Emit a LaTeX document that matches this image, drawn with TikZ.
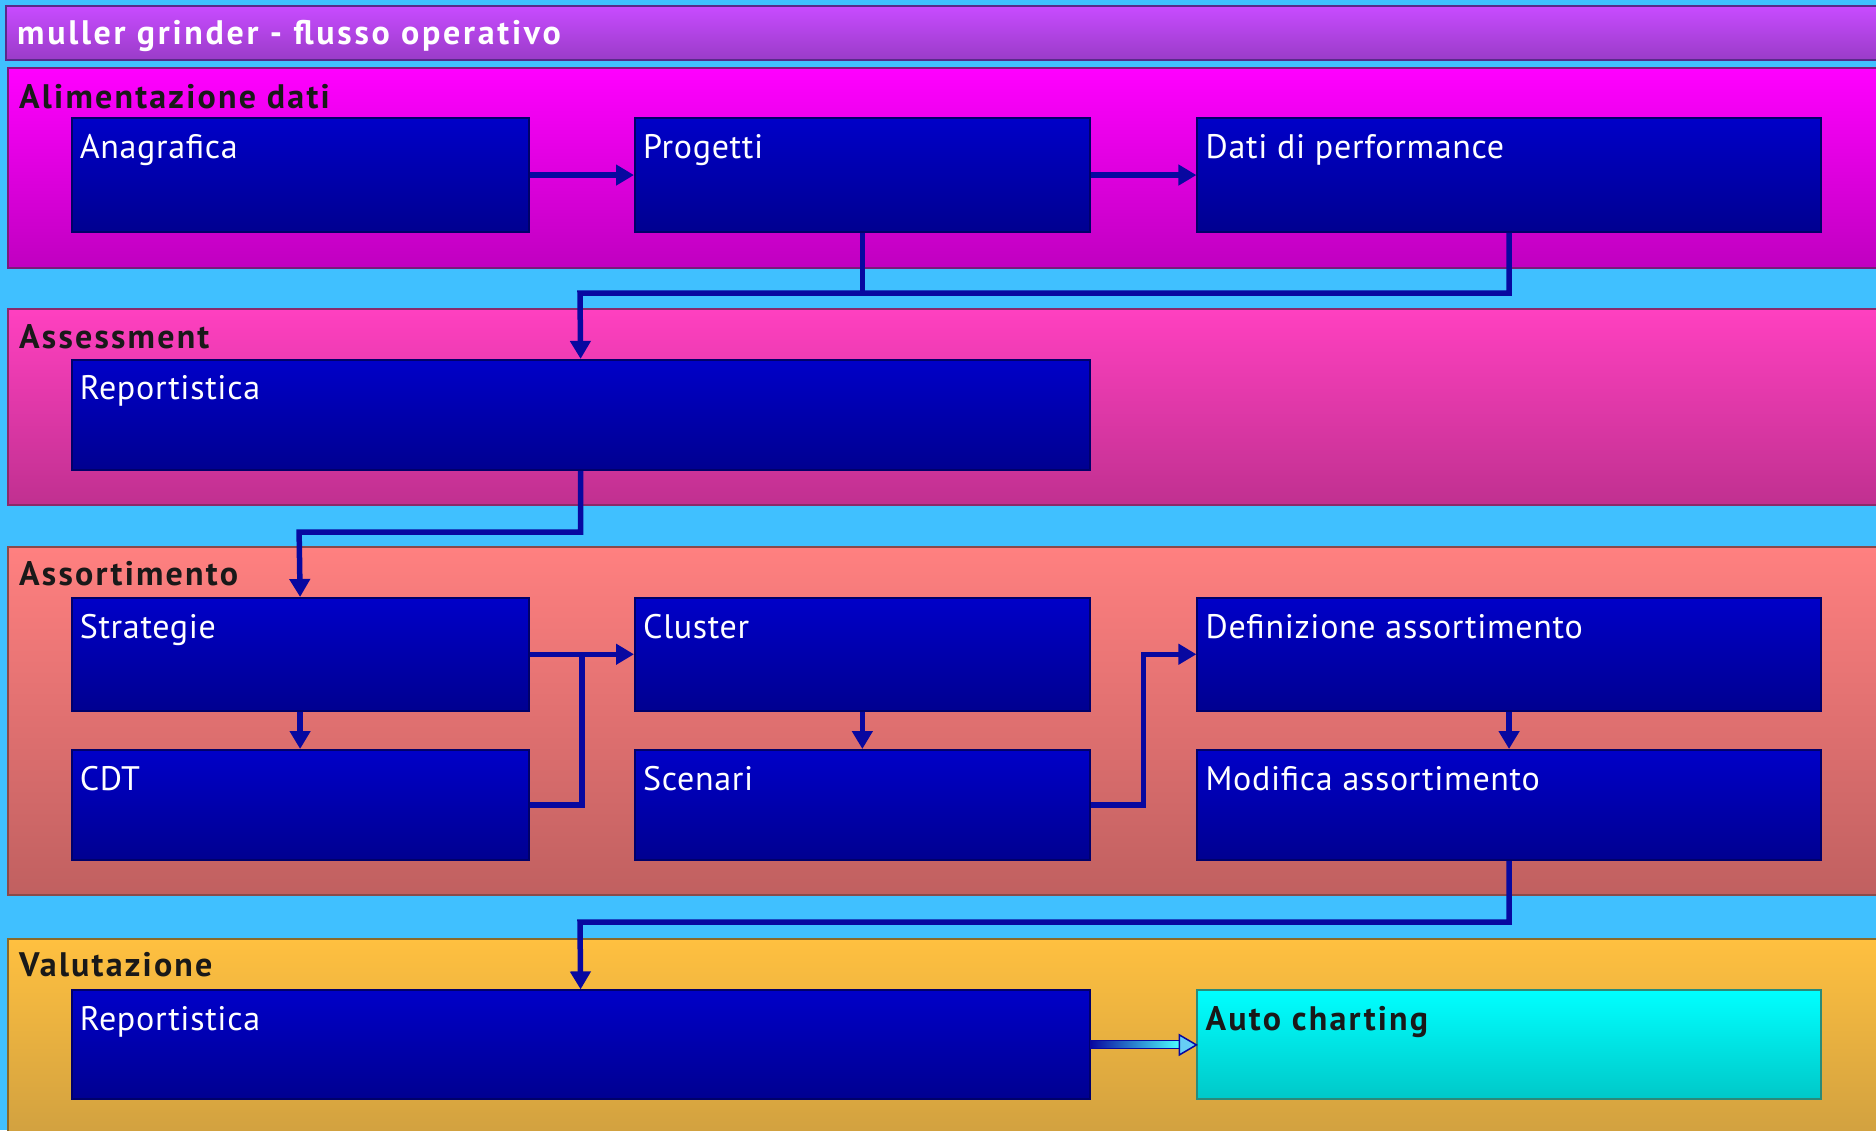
\documentclass[tikz,border=0pt]{standalone}
\usepackage{fontspec}
\setmainfont{PT Sans}
\newfontfamily\boxfont[LetterSpace=2]{PT Sans}
\newfontfamily\bandfont[LetterSpace=6.5]{PT Sans}
\newfontfamily\titfont[LetterSpace=8]{PT Sans}
\usetikzlibrary{arrows.meta,calc}
\definecolor{bg}{HTML}{40C0FF}
\definecolor{titt}{HTML}{C84BFF}
\definecolor{titb}{HTML}{9A3CC8}
\definecolor{titd}{HTML}{5A2A8A}
\definecolor{b1t}{HTML}{FF00FF}
\definecolor{b1b}{HTML}{C000C0}
\definecolor{b1d}{HTML}{7A1A7A}
\definecolor{b2t}{HTML}{FF40C0}
\definecolor{b2b}{HTML}{C03090}
\definecolor{b2d}{HTML}{8A2A6A}
\definecolor{b3t}{HTML}{FF8080}
\definecolor{b3b}{HTML}{C06060}
\definecolor{b3d}{HTML}{8A4A4A}
\definecolor{b4t}{HTML}{FFC040}
\definecolor{b4b}{HTML}{D0A040}
\definecolor{b4d}{HTML}{8A6A2A}
\definecolor{boxt}{HTML}{0000C8}
\definecolor{boxbot}{HTML}{000090}
\definecolor{boxd}{HTML}{00006A}
\definecolor{conn}{HTML}{0808A0}
\definecolor{act}{HTML}{00FFFF}
\definecolor{acb}{HTML}{00C8C8}
\definecolor{acd}{HTML}{2A8A7A}
\begin{document}
\begin{tikzpicture}[x=1pt,y=-1pt,
  band/.style={line width=2pt},
  box/.style={draw=boxd, line width=2pt, top color=boxt, bottom color=boxbot, anchor=north west, inner sep=0pt},
  lbl/.style={anchor=base west, text=white, font=\boxfont\fontsize{34}{36}\selectfont, inner sep=0pt},
  blbl/.style={anchor=base west, text=black!90, font=\bandfont\bfseries\fontsize{34}{36}\selectfont, inner sep=0pt},
  flow/.style={draw=conn, line width=5.5pt, -{Triangle[length=18pt,width=20pt]}},
  flowline/.style={draw=conn, line width=5.5pt}]
\clip (0,0) rectangle (1876,1130);
\fill[bg] (0,0) rectangle (1876,1130);
% bands
\shade[band, draw=titd, top color=titt, bottom color=titb] (6,6) rectangle (1890,60);
\shade[band, draw=b1d, top color=b1t, bottom color=b1b] (8,68) rectangle (1890,268);
\shade[band, draw=b2d, top color=b2t, bottom color=b2b] (8,309) rectangle (1890,505);
\shade[band, draw=b3d, top color=b3t, bottom color=b3b] (8,547) rectangle (1890,895);
\shade[band, draw=b4d, top color=b4t, bottom color=b4b] (8,939) rectangle (1890,1140);
% band labels
\node[blbl, text=white, font=\titfont\bfseries\fontsize{34}{36}\selectfont] (title) at (17,44) {muller grinder - flusso operativo};
\node[blbl] (l1) at (19,108) {Alimentazione dati};
\node[blbl] (l2) at (19,348) {Assessment};
\node[blbl] (l3) at (19,585) {Assortimento};
\node[blbl] (l4) at (19,976) {Valutazione};
% boxes
\node[box, minimum width=457pt, minimum height=113.7pt] (ana) at (70.6,117.2) {};
\node[box, minimum width=454.7pt, minimum height=113.7pt] (prog) at (634,117.2) {};
\node[box, minimum width=623.3pt, minimum height=113.7pt] (dati) at (1196.4,117.2) {};
\node[box, minimum width=1018pt, minimum height=110pt] (rep1) at (70.6,358.9) {};
\node[box, minimum width=457pt, minimum height=112.5pt] (strat) at (70.6,597) {};
\node[box, minimum width=454.7pt, minimum height=112.5pt] (clus) at (634,597) {};
\node[box, minimum width=623.3pt, minimum height=112.5pt] (def) at (1196.4,597) {};
\node[box, minimum width=457pt, minimum height=110pt] (cdt) at (70.6,749) {};
\node[box, minimum width=454.7pt, minimum height=110pt] (scen) at (634,749) {};
\node[box, minimum width=623.3pt, minimum height=110pt] (mod) at (1196.4,749) {};
\node[box, minimum width=1018pt, minimum height=109pt] (rep2) at (70.6,989.4) {};
\node[box, draw=acd, top color=act, bottom color=acb, minimum width=623.3pt, minimum height=109pt] (ac) at (1196.4,989.4) {};
% box labels
\node[lbl] (anat) at ($(ana.north west)+(9,41)$) {Anagrafica};
\node[lbl] (progt) at ($(prog.north west)+(9,41)$) {Progetti};
\node[lbl] (datit) at ($(dati.north west)+(9,41)$) {Dati di performance};
\node[lbl] (rep1t) at ($(rep1.north west)+(9,41)$) {Reportistica};
\node[lbl] (stratt) at ($(strat.north west)+(9,41)$) {Strategie};
\node[lbl] (clust) at ($(clus.north west)+(9,41)$) {Cluster};
\node[lbl] (deft) at ($(def.north west)+(9,41)$) {Definizione assortimento};
\node[lbl] (cdtt) at ($(cdt.north west)+(9,41)$) {CDT};
\node[lbl] (scent) at ($(scen.north west)+(9,41)$) {Scenari};
\node[lbl] (modt) at ($(mod.north west)+(9,41)$) {Modifica assortimento};
\node[lbl] (rep2t) at ($(rep2.north west)+(9,41)$) {Reportistica};
\node[blbl] (act) at ($(ac.north west)+(9,41)$) {Auto charting};
% junctions
\coordinate (j1) at (580,293);
\coordinate (j2) at (299.1,532);
\coordinate (j3) at (580,922);
\coordinate (m1) at ($(strat.east)!0.5!(clus.west)$);
\coordinate (m2) at ($(clus.east)!0.5!(def.west)$);
% connectors
\draw[flow] (ana.east) -- (prog.west);
\draw[flow] (prog.east) -- (dati.west);
\draw[flowline] (prog.south) -- (prog.south |- j1);
\draw[flow] (dati.south) |- (j1) -- (rep1.north);
\draw[flow] (rep1.south) |- (j2) -- (strat.north);
\draw[flow] (strat.south) -- (cdt.north);
\draw[flow] (strat.east) -- (clus.west);
\draw[flowline] (cdt.east) -| (m1);
\draw[flow] (clus.south) -- (scen.north);
\draw[flow] (scen.east) -| (m2) -- (def.west);
\draw[flow] (def.south) -- (mod.north);
\draw[flow] (mod.south) |- (j3) -- (rep2.north);
% open double arrow to Auto charting
\coordinate (a2) at ($(ac.west)+(-17,0)$);
\shade[left color=conn, right color=cyan!70, draw=conn, line width=1pt] ($(rep2.east)+(0,-4)$) rectangle ($(a2)+(0,4)$);
\draw[draw=conn, fill=cyan!60, line width=1.5pt] ($(a2)+(0,-10)$) -- (ac.west) -- ($(a2)+(0,10)$) -- cycle;
\end{tikzpicture}
\end{document}
